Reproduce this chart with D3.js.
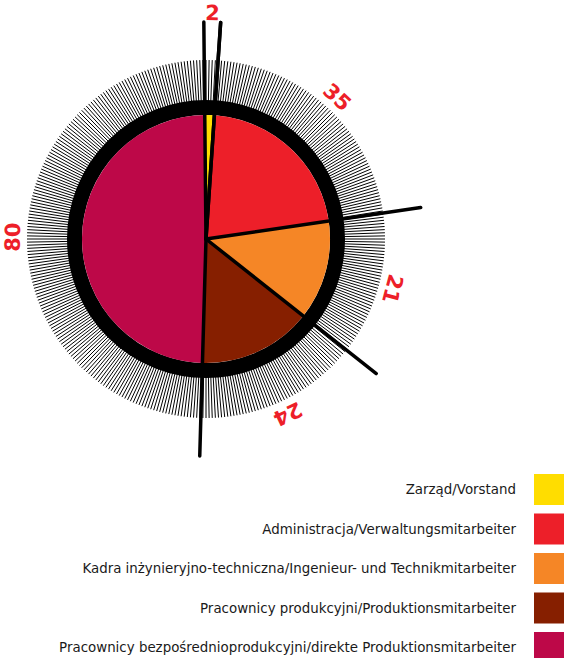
<!DOCTYPE html>
<html><head><meta charset="utf-8">
<script src="https://cdn.jsdelivr.net/npm/d3@7"></script>
<style>html,body{margin:0;padding:0;background:#fff;}svg{display:block;}</style>
</head><body>
<svg id="c" width="564" height="658"></svg>
<script>
const categories = [
  "Zarząd/Vorstand",
  "Administracja/Verwaltungsmitarbeiter",
  "Kadra inżynieryjno-techniczna/Ingenieur- und Technikmitarbeiter",
  "Pracownicy produkcyjni/Produktionsmitarbeiter",
  "Pracownicy bezpośrednioprodukcyjni/direkte Produktionsmitarbeiter"
];
const values = [2, 35, 21, 24, 80];
const labels = ["2", "35", "21", "24", "80"];
const colors = ["#FFDD00", "#ED1F29", "#F58626", "#861F00", "#BD0848"];

const svg = d3.select("#c");
const cx = 206, cy = 239;
const rPie = 124, rRing = 139, rTick = 179, rSep = 217;
const g = svg.append("g").attr("transform", `translate(${cx},${cy})`);

// tick hairlines
const nTicks = 360;
const tickScale = d3.scaleLinear().domain([0, nTicks]).range([0, 2 * Math.PI]);
g.append("g").selectAll("line").data(d3.range(nTicks)).join("line")
  .attr("x1", d => Math.sin(tickScale(d)) * (rRing - 2))
  .attr("y1", d => -Math.cos(tickScale(d)) * (rRing - 2))
  .attr("x2", d => Math.sin(tickScale(d)) * rTick)
  .attr("y2", d => -Math.cos(tickScale(d)) * rTick)
  .attr("stroke", "#000").attr("stroke-width", 1);

// black ring
g.append("circle").attr("r", (rPie + rRing) / 2).attr("fill", "none")
  .attr("stroke", "#000").attr("stroke-width", rRing - rPie);

const start = -0.01;
const pie = d3.pie().sort(null).startAngle(start).endAngle(start + 2 * Math.PI);
const arcs = pie(values);
const arc = d3.arc().innerRadius(0).outerRadius(rPie);
g.append("g").selectAll("path").data(arcs).join("path")
  .attr("d", arc).attr("fill", (d, i) => colors[i]);

// separator lines
const bounds = arcs.map(a => a.startAngle);
g.append("g").selectAll("line").data(bounds).join("line")
  .attr("x1", 0).attr("y1", 0)
  .attr("x2", a => Math.sin(a) * rSep)
  .attr("y2", a => -Math.cos(a) * rSep)
  .attr("stroke", "#000").attr("stroke-width", 3.5).attr("stroke-linecap", "round");
// the small slice's end line
g.append("line").attr("x1", 0).attr("y1", 0)
  .attr("x2", Math.sin(arcs[0].endAngle) * rSep)
  .attr("y2", -Math.cos(arcs[0].endAngle) * rSep)
  .attr("stroke", "#000").attr("stroke-width", 3.5).attr("stroke-linecap", "round");

// labels
g.append("g").selectAll("text").data(arcs).join("text")
  .each(function(d, i) {
    const mid = (d.startAngle + d.endAngle) / 2;
    const r = values[i] < 5 ? 226 : 193;
    const deg = mid * 180 / Math.PI;
    d3.select(this)
      .attr("transform", `translate(${Math.sin(mid) * r},${-Math.cos(mid) * r}) rotate(${deg})`);
  })
  .attr("text-anchor", "middle").attr("dominant-baseline", "central")
  .attr("font-family", "DejaVu Sans").attr("font-weight", "bold")
  .attr("font-size", 21).attr("fill", "#ED1F29")
  .text((d, i) => labels[i]);

// legend
const ly = d3.scaleLinear().domain([0, 1]).range([489.5, 529]);
const leg = svg.append("g");
leg.selectAll("rect").data(categories).join("rect")
  .attr("x", 534).attr("y", (d, i) => ly(i) - 15.5).attr("width", 30).attr("height", 31)
  .attr("fill", (d, i) => colors[i]);
leg.selectAll("text").data(categories).join("text")
  .attr("x", 516).attr("y", (d, i) => ly(i))
  .attr("text-anchor", "end").attr("dominant-baseline", "central")
  .attr("font-family", "DejaVu Sans").attr("font-size", 13.4).attr("fill", "#1a1a1a")
  .text(d => d);
</script>
</body></html>
